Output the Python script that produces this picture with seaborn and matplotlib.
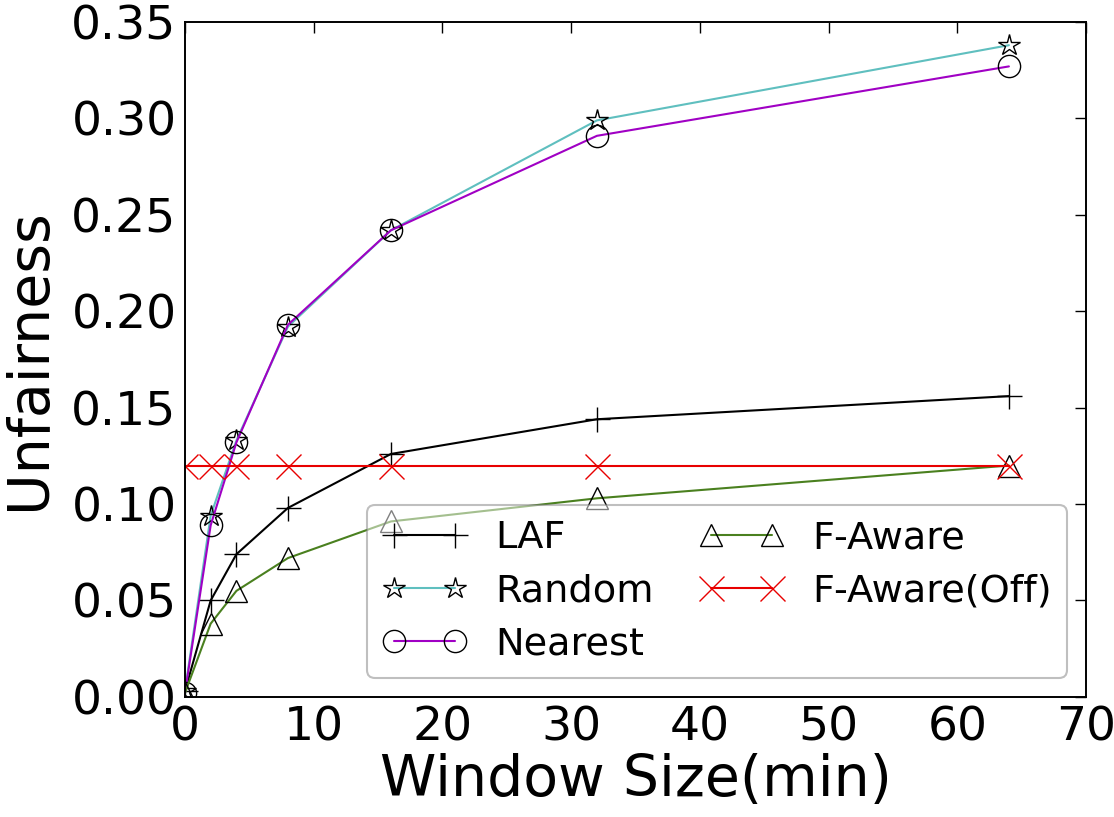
import matplotlib
matplotlib.use("Agg")
import matplotlib.pyplot as plt
import seaborn as sns
import pandas as pd

# Window sizes (minutes)
window_min = [0, 2, 4, 8, 16, 32, 64]

# Unfairness per method
laf = [0.003, 0.050, 0.074, 0.098, 0.126, 0.144, 0.156]
random_ = [0.003, 0.094, 0.133, 0.192, 0.242, 0.299, 0.338]
nearest = [0.002, 0.089, 0.132, 0.193, 0.242, 0.291, 0.327]
f_aware = [0.002, 0.038, 0.055, 0.072, 0.091, 0.103, 0.120]
f_aware_off = [0.120, 0.120, 0.120, 0.120, 0.120, 0.120, 0.120]

x_ticks = [0, 10, 20, 30, 40, 50, 60, 70]
y_ticks = [0.00, 0.05, 0.10, 0.15, 0.20, 0.25, 0.30, 0.35]

series = [
    ("LAF", laf, "black", "+"),
    ("Random", random_, "#5fbfbf", "*"),
    ("Nearest", nearest, "#a000c4", "o"),
    ("F-Aware", f_aware, "#4a801f", "^"),
    ("F-Aware(Off)", f_aware_off, "#e80000", "x"),
]


def main():
    sns.set_theme(style="white")
    plt.rcParams["font.family"] = ["DejaVu Sans"]
    plt.rcParams["axes.edgecolor"] = "black"
    plt.rcParams["axes.linewidth"] = 1.4
    plt.rcParams["text.color"] = "black"
    plt.rcParams["axes.labelcolor"] = "black"
    plt.rcParams["xtick.color"] = "black"
    plt.rcParams["ytick.color"] = "black"

    fig = plt.figure(figsize=(11.14, 8.17), dpi=100)
    ax = fig.add_axes([0.166, 0.147, 0.809, 0.826])

    handles = []
    for name, vals, color, mk in series:
        df = pd.DataFrame({"Window": window_min, "Unfairness": vals})
        edge = color if mk == "x" else "black"
        size = 18 if mk in ("+", "x") else 16
        sns.lineplot(data=df, x="Window", y="Unfairness", color=color, marker=mk,
                     markersize=size, markerfacecolor="none", markeredgecolor=edge,
                     markeredgewidth=1.0, linewidth=1.5, ax=ax, legend=False)
        line = ax.lines[-1]
        line.set_label(name)
        handles.append(line)

    ax.set_xlim(0, 70)
    ax.set_ylim(0, 0.35)
    ax.set_xticks(x_ticks)
    ax.set_yticks(y_ticks)
    ax.set_yticklabels([f"{v:.2f}" for v in y_ticks])
    ax.tick_params(direction="in", top=True, right=True, length=8, width=1.0,
                   labelsize=34, pad=6)
    ax.set_xlabel("Window Size(min)", fontsize=41, labelpad=2)
    ax.set_ylabel("Unfairness", fontsize=41, labelpad=10)

    leg = ax.legend(handles=handles, loc="lower right", ncol=2, numpoints=2,
                    fontsize=27.5, handlelength=2.2, handletextpad=0.75,
                    columnspacing=1.2, labelspacing=0.45, framealpha=0.5,
                    fancybox=True, edgecolor="0.5")
    leg.get_frame().set_linewidth(1.5)

    fig.savefig("out.png", dpi=100)
    plt.close(fig)


if __name__ == "__main__":
    main()
